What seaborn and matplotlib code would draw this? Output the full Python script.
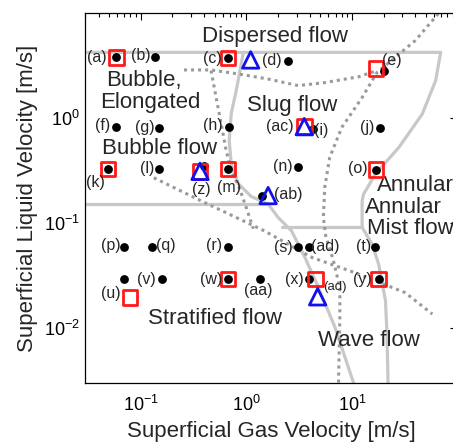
import seaborn as sns
import pandas as pd
import numpy as np
import matplotlib.pyplot as plt
from matplotlib.ticker import LogLocator, NullFormatter

# measured points (superficial gas / liquid velocity, m/s)
dot_x = [0.0587, 0.136, 2.46, 20.3, 0.0587, 0.149, 0.684, 4.25, 18.4, 0.0488, 0.149, 0.40,
         0.67, 3.06, 16.9, 1.41, 0.0693, 0.127, 0.67, 3.1, 3.92, 16.7, 0.0693, 0.158, 0.67,
         1.34, 3.92, 17.9, 0.67]
dot_y = [3.81, 3.81, 3.55, 2.85, 0.834, 0.81, 0.834, 0.80, 0.81, 0.33, 0.33, 0.354,
         0.33, 0.341, 0.325, 0.184, 0.059, 0.059, 0.059, 0.059, 0.059, 0.059, 0.0296, 0.0296, 0.0296,
         0.0296, 0.0296, 0.0296, 3.76]

square_x = [0.0587, 0.67, 16.9, 3.54, 0.0488, 0.365, 0.67, 16.9, 0.079, 0.67, 4.54, 17.9]
square_y = [3.81, 3.76, 2.99, 0.834, 0.33, 0.313, 0.33, 0.325, 0.0197, 0.0296, 0.0296, 0.0296]

tri_x = [1.10, 3.54, 0.365, 1.61, 4.74]
tri_y = [3.6, 0.834, 0.313, 0.184, 0.020]

# point labels
lab_text = ['(a)', '(b)', '(c)', '(d)', '(e)', '(f)', '(g)', '(h)', '(ac)', '(i)', '(j)', '(k)',
            '(l)', '(z)', '(m)', '(n)', '(o)', '(ab)', '(p)', '(q)', '(r)', '(s)', '(ad)', '(t)',
            '(u)', '(v)', '(w)', '(aa)', '(x)', '(y)']
lab_x = [0.0387, 0.1, 0.482, 1.73, 24.0, 0.0432, 0.109, 0.482, 2.08, 5.1, 13.9, 0.0373,
         0.116, 0.373, 0.693, 2.24, 11.4, 2.49, 0.0518, 0.173, 0.499, 2.24, 5.65, 12.9,
         0.0518, 0.112, 0.464, 1.31, 2.88, 12.5]
lab_y = [3.81, 3.96, 3.68, 3.54, 3.54, 0.852, 0.821, 0.852, 0.834, 0.764, 0.821, 0.246,
         0.33, 0.208, 0.22, 0.347, 0.33, 0.19, 0.0613, 0.0613, 0.0613, 0.059, 0.06, 0.06,
         0.0216, 0.0295, 0.0295, 0.0229, 0.0295, 0.0295]

# flow regime names
reg_text = ['Bubble,', 'Elongated', 'Slug flow', 'Bubble flow', 'Annular', 'Annular',
            'Mist flow', 'Stratified flow', 'Wave flow']
reg_x = [0.0475, 0.0416, 1.02, 0.0432, 17.3, 13.3, 13.9, 0.116, 4.82]
reg_y = [2.29, 1.41, 1.32, 0.511, 0.229, 0.141, 0.0886, 0.0123, 0.00764]

# solid regime boundaries
top_x = [0.03, 69.3, 62.1, 46.4, 27.9, 16.7, 12.9, 12.5, 12.5, 15.5, 17.9, 20.8, 21.5, 22.0]
top_y = [4.25, 4.25, 2.29, 1.10, 0.53, 0.295, 0.19, 0.164, 0.0916, 0.0637, 0.041, 0.0184, 0.0089, 0.003]
strat_x = [0.936, 0.896, 0.803, 0.72, 0.689, 0.72, 0.839, 1.116, 1.61, 2.0, 2.68, 3.59, 4.82, 6.93, 10.4]
strat_y = [4.23, 3.32, 1.84, 1.11, 0.613, 0.371, 0.239, 0.18, 0.153, 0.114, 0.085, 0.0475, 0.0245, 0.0102, 0.003]
bub_x = [0.03, 1.61]
bub_y = [0.153, 0.153]
mist_x = [2.2, 12.5]
mist_y = [0.0916, 0.0916]

# dotted regime boundaries
d1_x = [0.257, 0.464, 0.834, 1.61, 3.1, 5.53, 11.6, 17.3]
d1_y = [2.89, 2.89, 2.65, 2.37, 2.05, 2.19, 2.49, 2.85]
d2_x = [65.9, 39.8, 17.3, 12.5, 8.03, 6.17, 5.53, 5.37, 5.65, 6.69, 7.69, 7.69, 7.47]
d2_y = [9.94, 5.5, 2.74, 1.58, 0.821, 0.425, 0.22, 0.114, 0.0763, 0.0441, 0.0244, 0.0126, 0.003]
d3_x = [0.464, 0.518, 0.578, 0.645, 0.72, 0.858, 1.0, 1.166]
d3_y = [2.85, 1.58, 0.89, 0.492, 0.318, 0.219, 0.141, 0.089]
d4_x = [0.133, 0.373, 1.48, 4.16, 10.7, 32.0, 57.8]
d4_y = [0.272, 0.164, 0.085, 0.0475, 0.0339, 0.0219, 0.0137]


def main():
    sns.set_style('white')
    plt.rcParams['font.family'] = ['Liberation Sans', 'DejaVu Sans']
    plt.rcParams['mathtext.default'] = 'regular'

    fig = plt.figure(figsize=(4.53, 4.46), dpi=100)
    ax = fig.add_axes([0.1887, 0.1405, 0.8212, 0.8296])
    ax.set_xscale('log')
    ax.set_yscale('log')

    solid = dict(color='#c8c8c8', linewidth=2.3, sort=False, estimator=None, ax=ax)
    for lx, ly in [(top_x, top_y), (strat_x, strat_y), (bub_x, bub_y), (mist_x, mist_y)]:
        sns.lineplot(x=lx, y=ly, **solid)

    dotted = dict(color='#9a9a9a', linewidth=2.2, sort=False, estimator=None, ax=ax,
                  linestyle=(0, (1, 1.3)))
    for lx, ly in [(d1_x, d1_y), (d2_x, d2_y), (d3_x, d3_y), (d4_x, d4_y)]:
        sns.lineplot(x=lx, y=ly, **dotted)

    sns.scatterplot(x=dot_x, y=dot_y, color='black', s=40, linewidth=0, ax=ax, zorder=3)
    sns.scatterplot(x=square_x, y=square_y, marker='s', s=110, facecolor='none',
                    edgecolor='#ff1a1a', linewidth=2, ax=ax, zorder=4)
    sns.scatterplot(x=tri_x, y=tri_y, marker='^', s=140, facecolor='none',
                    edgecolor='#1010ee', linewidth=2, ax=ax, zorder=5)

    for t, x, y in zip(lab_text, lab_x, lab_y):
        ax.text(x, y, t, fontsize=11.5, ha='center', va='center', zorder=6)
    ax.text(6.93, 0.0246, '(ad)', fontsize=9.5, ha='center', va='center', zorder=6)

    ax.text(1.85, 6.0, 'Dispersed flow', fontsize=16, ha='center', va='center')
    for t, x, y in zip(reg_text, reg_x, reg_y):
        ax.text(x, y, t, fontsize=16, ha='left', va='center')

    ax.set_xlim(0.03, 100)
    ax.set_ylim(0.003, 10)
    ax.xaxis.set_minor_locator(LogLocator(base=10, subs=np.arange(2, 10), numticks=20))
    ax.yaxis.set_minor_locator(LogLocator(base=10, subs=np.arange(2, 10), numticks=20))
    ax.xaxis.set_minor_formatter(NullFormatter())
    ax.yaxis.set_minor_formatter(NullFormatter())
    ax.set_xticks([0.1, 1, 10])
    ax.set_yticks([0.01, 0.1, 1])
    ax.tick_params(which='both', direction='in', top=True, right=True, colors='black',
                   labelsize=13, width=0.8)
    ax.tick_params(which='major', length=5)
    ax.tick_params(axis='x', which='major', pad=8)
    ax.tick_params(axis='y', which='major', pad=4)
    ax.tick_params(which='minor', length=3)
    for sp in ax.spines.values():
        sp.set_color('black')
        sp.set_linewidth(0.9)

    ax.set_xlabel('Superficial Gas Velocity [m/s]', fontsize=16, labelpad=5)
    ax.set_ylabel('Superficial Liquid Velocity [m/s]', fontsize=16, labelpad=4)

    fig.savefig('out.png', dpi=100)
    plt.close(fig)


if __name__ == '__main__':
    main()
